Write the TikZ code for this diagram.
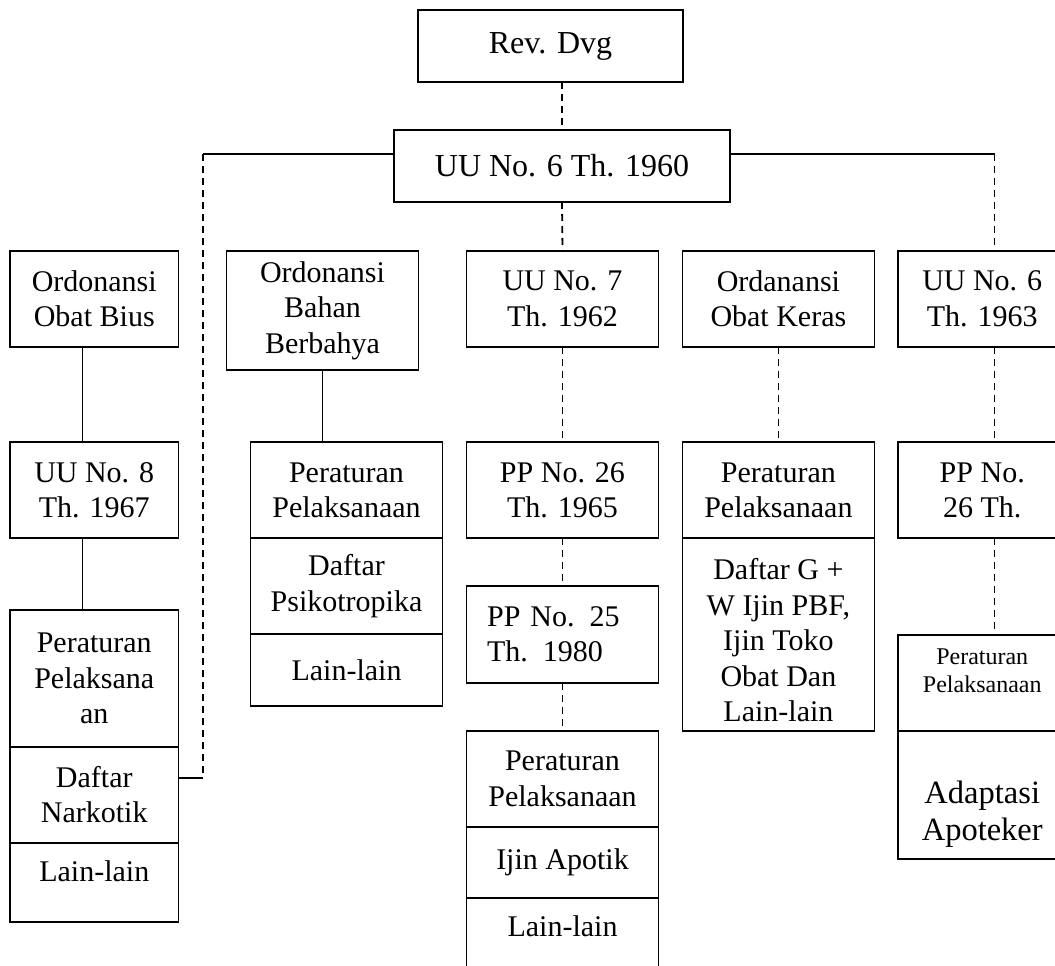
\documentclass[tikz,border=0pt]{standalone}
\usepackage{fontspec}
\setmainfont{Liberation Serif}
\usetikzlibrary{positioning}

% text that sits higher or lower than the middle of its cell
\newcommand{\liftup}[2]{\raisebox{#1}[\height][\depth]{\begin{tabular}{@{}c@{}}#2\end{tabular}}}

\begin{document}
\begin{tikzpicture}[x=1pt, y=-1pt, line width=1.8pt,
  font=\fontsize{30}{35.5}\selectfont,
  cell/.style={draw, inner sep=0pt, outer sep=0pt, align=center, anchor=north west},
  narrow/.style={cell, minimum width=168.5pt},
  wide/.style={cell, minimum width=192pt},
  dashline/.style={dash pattern=on 7pt off 5pt}]
\clip (0,0) rectangle (1055,966);

% top of the tree
\node[cell, minimum width=265pt, minimum height=72pt, font=\fontsize{32}{38}\selectfont] (rev) at (418,10) {Rev. Dvg};
\node[cell, minimum width=336pt, minimum height=72pt, font=\fontsize{32}{38}\selectfont] (uu60) at (394,130) {UU No. 6 Th. 1960};

% column 1
\node[narrow, minimum height=96pt] (bius) at (10,250.7) {Ordonansi\\Obat Bius};
\node[narrow, minimum height=96pt] (uu8) at (10,442.3) {UU No. 8\\Th. 1967};
\node[narrow, minimum height=136.7pt] (pbius) at (10,610) {Peraturan\\Pelaksana\\an};
\node[narrow, minimum height=96pt, below=0pt of pbius] (dnark) {Daftar\\Narkotik};
\node[narrow, minimum height=79.6pt, below=0pt of dnark] (lbius) {\liftup{8pt}{Lain-lain}};

% column 2
\node[wide, minimum height=119.3pt] (bahan) at (226.5,250.7) {Ordonansi\\Bahan\\Berbahya};
\node[wide, minimum height=96pt] (pbahan) at (250.5,442.3) {Peraturan\\Pelaksanaan};
\node[wide, minimum height=95.7pt, below=0pt of pbahan] (dpsi) {Daftar\\Psikotropika};
\node[wide, minimum height=72pt, below=0pt of dpsi] (lbahan) {Lain-lain};

% column 3
\node[wide, minimum height=96pt] (uu7) at (466.5,250.7) {UU No. 7\\Th. 1962};
\node[wide, minimum height=96pt] (pp26) at (466.5,442.3) {PP No. 26\\Th. 1965};
\node[cell, align=left, text width=150.8pt, inner xsep=20.6pt, minimum height=96.7pt] (pp25) at (466.5,586) {PP No. 25\\Th. 1980};
\node[wide, minimum height=96pt] (papo) at (466.5,730.7) {Peraturan\\Pelaksanaan};
\node[wide, minimum height=71.6pt, below=0pt of papo] (ijin) {Ijin Apotik};
\node[wide, minimum height=96pt, below=0pt of ijin] (lapo) {\liftup{17pt}{Lain-lain}};

% column 4
\node[wide, minimum height=96pt] (keras) at (682.4,250.7) {Ordanansi\\Obat Keras};
\node[wide, minimum height=96pt] (pkeras) at (682.4,442.3) {Peraturan\\Pelaksanaan};
\node[wide, minimum height=192.4pt, below=0pt of pkeras] (dkeras) {\liftup{-9pt}{Daftar G +\\W Ijin PBF,\\Ijin Toko\\Obat Dan\\Lain-lain}};

% column 5
\node[narrow, minimum height=96pt] (uu63) at (898,250.7) {UU No. 6\\Th. 1963};
\node[narrow, minimum height=96pt] (pp26b) at (898,442.3) {PP No.\\26 Th.};
\node[narrow, minimum height=96pt, font=\fontsize{24}{28}\selectfont] (pper) at (898,634.7) {\liftup{10pt}{Peraturan\\Pelaksanaan}};
\node[narrow, minimum height=128.6pt, below=0pt of pper, font=\fontsize{32.5}{37}\selectfont] (adapt) {\liftup{-20pt}{Adaptasi\\Apoteker}};

% connectors
\coordinate (lbend) at (203,154.3);
\coordinate (lfoot) at (203,778);
\coordinate (rbend) at (994.5,154.3);
\draw[dashline] (uu60.north |- rev.south) -- (uu60.north);
\draw[dashline] (uu60.south) -- (uu7.north);
\draw (lbend -| uu60.west) -- (lbend);
\draw[dashline] (lbend) -- (lfoot);
\draw (lfoot) -- (lfoot -| dnark.east);
\draw (rbend -| uu60.east) -- (rbend);
\draw[dashline] (rbend) -- (rbend |- uu63.north);

\draw ([xshift=-11.75pt]bius.south) -- ([xshift=-11.75pt]uu8.north);
\draw ([xshift=-11.75pt]uu8.south) -- ([xshift=-11.75pt]pbius.north);
\draw (bahan.south) -- (bahan.south |- pbahan.north);
\draw[dashline] (uu7.south) -- (pp26.north);
\draw[dashline] (pp26.south) -- (pp25.north);
\draw[dashline] (pp25.south) -- (papo.north);
\draw[dashline] (keras.south) -- (pkeras.north);
\draw[dashline] (rbend |- uu63.south) -- (rbend |- pp26b.north);
\draw[dashline] (rbend |- pp26b.south) -- (rbend |- pper.north);
\end{tikzpicture}
\end{document}
